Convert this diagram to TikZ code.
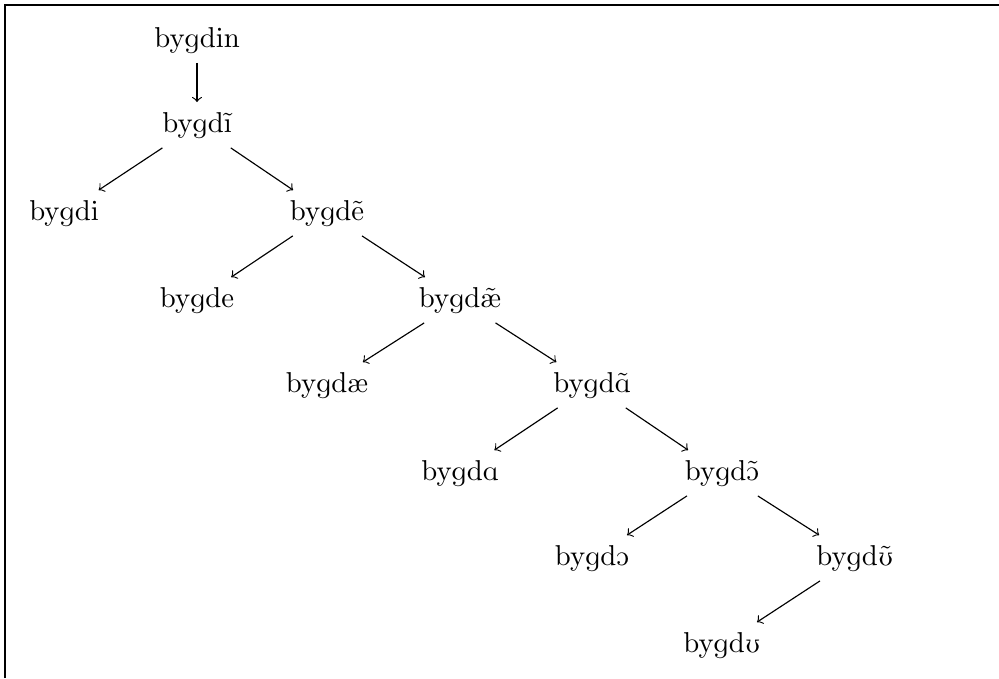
\documentclass[tikz,border=0pt]{standalone}
\usepackage{tipa}
\begin{document}
\begin{tikzpicture}[x=0.3484pt,y=-0.3484pt,
  word/.style={inner sep=3.33pt},
  link/.style={->,>=to}]
\useasboundingbox (0,0) rectangle (999,678);
\draw (5,678) -- (5,5) -- (999,5);
\node[word] (n0) at (197,40) {\textipa{bygdin}};
\node[word] (n1) at (197,125) {\textipa{bygd\~\i}};
\node[word] (n2) at (64,213) {\textipa{bygdi}};
\node[word] (n3) at (327,213) {\textipa{bygd\~e}};
\node[word] (n4) at (197,300) {\textipa{bygde}};
\node[word] (n5) at (460,300) {\textipa{bygd\~\ae}};
\node[word] (n6) at (327,385) {\textipa{bygd\ae}};
\node[word] (n7) at (592,385) {\textipa{bygd\~A}};
\node[word] (n8) at (460,473) {\textipa{bygdA}};
\node[word] (n9) at (722,473) {\textipa{bygd\~O}};
\node[word] (n10) at (592,558) {\textipa{bygdO}};
\node[word] (n11) at (855,558) {\textipa{bygd\~U}};
\node[word] (n12) at (722,645) {\textipa{bygdU}};
\draw[link] (n0) -- (n1);
\draw[link] (n1) -- (n2);
\draw[link] (n1) -- (n3);
\draw[link] (n3) -- (n4);
\draw[link] (n3) -- (n5);
\draw[link] (n5) -- (n6);
\draw[link] (n5) -- (n7);
\draw[link] (n7) -- (n8);
\draw[link] (n7) -- (n9);
\draw[link] (n9) -- (n10);
\draw[link] (n9) -- (n11);
\draw[link] (n11) -- (n12);
\end{tikzpicture}
\end{document}
